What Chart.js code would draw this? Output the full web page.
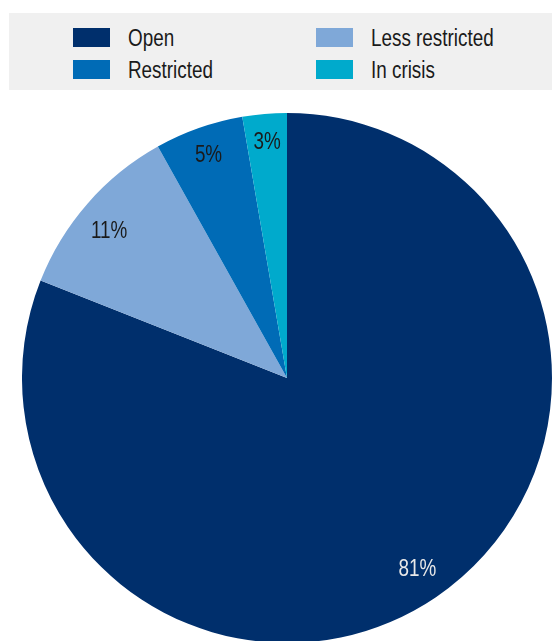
<!DOCTYPE html>
<html>
<head>
<meta charset="utf-8">
<script src="https://cdn.jsdelivr.net/npm/chart.js"></script>
<style>
    html, body { margin: 0; padding: 0; width: 552px; height: 641px; overflow: hidden; background: #fff; }
    #legend { position: absolute; left: 9px; top: 13px; width: 543px; height: 77px; background: #f0f0f0; }
    .item { position: absolute; display: flex; align-items: flex-end; height: 19px;
            font-family: "Liberation Sans", Arial, sans-serif;
            font-size: 23px; line-height: 19px; color: #1a1a1a; white-space: nowrap; }
    .swatch { width: 37px; height: 19px; margin-right: 18px; flex: none; }
    .item span { display: inline-block; position: relative; top: 1px; transform: scaleX(0.82); transform-origin: left center; }
    #wrap { position: absolute; left: 22px; top: 113px; width: 530px; height: 530px; }
</style>
</head>
<body>
<div id="legend"></div>
<div id="wrap"><canvas id="pie"></canvas></div>
<script>
// Data (share of countries, %)
const categories = ['Open', 'Less restricted', 'Restricted', 'In crisis'];
const shares = [81.0, 10.9, 5.4, 2.7];

// Styling
const colours = ['#002F6C', '#7FA8D8', '#006BB6', '#00AACC'];
const labelColours = ['#e8e8e8', '#1a1a1a', '#1a1a1a', '#1a1a1a'];
const labelRadius = [0.875, 0.87, 0.89, 0.89];
const labelTurn = [0, -0.03, 0, 0]; // small angular nudge, radians

// Legend in two columns (row-major: Open, Less restricted / Restricted, In crisis)
const legend = document.getElementById('legend');
const colLeft = [64, 307];
const rowTop = [15, 47];
categories.forEach((name, i) => {
    const item = document.createElement('div');
    item.className = 'item';
    item.style.left = colLeft[i % 2] + 'px';
    item.style.top = rowTop[Math.floor(i / 2)] + 'px';
    item.innerHTML = `<div class="swatch" style="background:${colours[i]}"></div><span>${name}</span>`;
    legend.appendChild(item);
});

// Percentage labels inside the slices (narrowed like the original font)
const sliceLabels = {
    id: 'sliceLabels',
    afterDatasetsDraw(chart) {
        const ctx = chart.ctx;
        const meta = chart.getDatasetMeta(0);
        meta.data.forEach((arc, i) => {
            const p = arc.getProps(['x', 'y', 'startAngle', 'endAngle', 'outerRadius'], true);
            const mid = (p.startAngle + p.endAngle) / 2 + labelTurn[i];
            const r = p.outerRadius * labelRadius[i];
            ctx.save();
            ctx.translate(p.x + Math.cos(mid) * r, p.y + Math.sin(mid) * r);
            ctx.scale(0.82, 1);
            ctx.font = '23px "Liberation Sans", Arial, sans-serif';
            ctx.textAlign = 'center';
            ctx.textBaseline = 'middle';
            ctx.fillStyle = labelColours[i];
            ctx.fillText(Math.round(shares[i]) + '%', 0, 0);
            ctx.restore();
        });
    }
};

new Chart(document.getElementById('pie'), {
    type: 'pie',
    data: {
        labels: categories,
        datasets: [{
            data: shares,
            backgroundColor: colours,
            borderWidth: 0
        }]
    },
    options: {
        responsive: true,
        maintainAspectRatio: false,
        animation: false,
        layout: { padding: 0 },
        plugins: {
            legend: { display: false },
            tooltip: { enabled: false }
        }
    },
    plugins: [sliceLabels]
});
</script>
</body>
</html>
